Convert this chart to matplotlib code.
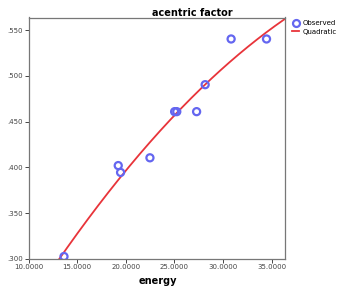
import numpy as np
import matplotlib
matplotlib.use("Agg")
import matplotlib.pyplot as plt
from matplotlib.lines import Line2D

energy = [13.65, 19.23, 19.47, 22.49, 25.03, 25.25, 27.29, 28.17, 30.84, 34.48]
acentric = [0.3025, 0.402, 0.3945, 0.4105, 0.461, 0.461, 0.461, 0.4905, 0.5405, 0.5405]

x_ticks = [10, 15, 20, 25, 30, 35]
y_ticks = [0.300, 0.350, 0.400, 0.450, 0.500, 0.550]

W, H = 338, 294
fig = plt.figure(figsize=(W / 100, H / 100), dpi=100)
ax = fig.add_axes([28.5 / W, 1 - 258.8 / H, 256 / W, 241.3 / H])

# quadratic fit line
coef = np.polyfit(energy, acentric, 2)
xs = np.linspace(10, 36.4, 200)
ax.plot(xs, np.polyval(coef, xs), color="#e8343a", lw=1.3, zorder=2)

ax.scatter(energy, acentric, s=26, facecolors="none", edgecolors="#6466f0",
           linewidths=1.6, zorder=3)

ax.set_xlim(10, 36.33)
ax.set_ylim(0.300, 0.564)
ax.set_xticks(x_ticks)
ax.set_xticklabels([f"{v:.4f}" for v in x_ticks])
ax.set_yticks(y_ticks)
ax.set_yticklabels([f"{v:.3f}"[1:] for v in y_ticks])
ax.tick_params(labelsize=5, length=3, width=0.7, colors="#444444", pad=1,
               top=False, right=False)
for s in ax.spines.values():
    s.set_color("#777777")
    s.set_linewidth(0.9)

fig.text(192 / W, 1 - 12.5 / H, "acentric factor", ha="center", va="center",
         fontsize=7, fontweight="bold")
fig.text(158 / W, 1 - 281 / H, "energy", ha="center", va="center",
         fontsize=7, fontweight="bold")

handles = [
    Line2D([], [], marker="o", ls="none", mfc="none", mec="#6466f0", mew=1.6, ms=5),
    Line2D([], [], color="#e8343a", lw=1.3),
]
fig.legend(handles, ["Observed", "Quadratic"], loc="upper left",
           bbox_to_anchor=(289 / W, 1 - 17 / H), frameon=False, fontsize=5,
           handlelength=1.0, handletextpad=0.4, labelspacing=0.3, borderpad=0)

fig.savefig("out.png", dpi=100)
